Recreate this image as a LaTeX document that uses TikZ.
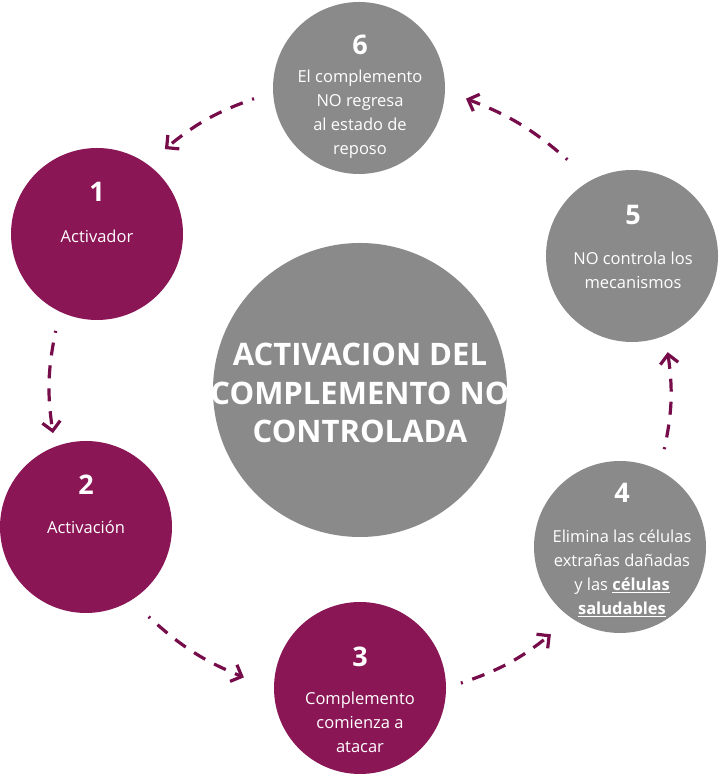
\documentclass[tikz,border=0pt]{standalone}
\usepackage{fontspec}
\setmainfont{Open Sans}
\usetikzlibrary{arrows.meta}
\definecolor{plum}{RGB}{139,22,86}
\definecolor{ash}{RGB}{138,138,138}
\definecolor{wine}{RGB}{118,12,74}
\newcommand\marcado[1]{\underline{\textbf{#1}}}

\begin{document}
\begin{tikzpicture}[x=1pt,y=1pt,
    bubble/.style={circle,minimum size=172pt,inner sep=0pt},
    num/.style={text=white,font=\fontsize{27}{27}\selectfont\bfseries},
    txt/.style={text=white,align=center,font=\fontsize{16.5}{24}\selectfont},
    title/.style={text=white,align=center,font=\fontsize{31}{38.5}\selectfont\bfseries},
    flow/.style={wine,line width=3.2pt,dash pattern=on 13pt off 10pt,dash phase=11pt,
      -{Straight Barb[length=9pt,width=18pt]}}]
        \useasboundingbox (0,0) rectangle (720,783);

        % Circles
        \node[bubble,fill=ash] (c6) at (359,695) {};
        \node[bubble,fill=plum] (c1) at (97,549) {};
        \node[bubble,fill=plum] (c2) at (86,256) {};
        \node[bubble,fill=plum] (c3) at (360,95) {};
        \node[bubble,fill=ash] (c4) at (620,236) {};
        \node[bubble,fill=ash] (c5) at (632,527) {};
        \node[circle,minimum size=294pt,inner sep=0pt,fill=ash] (mid) at (360,393) {};

        % Texts
        \node[title] (tmid) at (360,390) {ACTIVACION DEL\\COMPLEMENTO NO\\CONTROLADA};
        \node[num] (n6) at (360,738) {6};
        \node[txt] (t6) at (360,669) {El complemento\\NO regresa\\al estado de\\reposo};
        \node[num] (n1) at (97,591) {1};
        \node[txt] (t1) at (97,547) {Activador};
        \node[num] (n2) at (86,298) {2};
        \node[txt] (t2) at (86,256) {Activación};
        \node[num] (n3) at (360,126) {3};
        \node[txt] (t3) at (360,61) {Complemento\\comienza a\\atacar};
        \node[num] (n4) at (622,290) {4};
        \node[txt] (t4) at (622,210) {Elimina las células\\extrañas dañadas\\y las \marcado{células}\\\marcado{saludables}};
        \node[num] (n5) at (633,568) {5};
        \node[txt] (t5) at (633,513) {NO controla los\\mecanismos};

        % Coordinates (ring of radius 310 round the middle circle)
        \coordinate (A) at (254.0,684.3);
        \coordinate (B) at (164.9,633.9);
        \coordinate (C) at (55.7,452.2);
        \coordinate (D) at (53.0,349.9);
        \coordinate (E) at (148.6,166.3);
        \coordinate (F) at (243.9,105.6);
        \coordinate (G) at (460.9,99.9);
        \coordinate (H) at (550.9,148.7);
        \coordinate (I) at (664.3,333.8);
        \coordinate (J) at (667.7,430.8);
        \coordinate (K) at (567.4,623.4);
        \coordinate (L) at (466.0,684.3);

        % Arrows
        \draw[flow] (A) to[bend right=10] (B);
        \draw[flow] (C) to[bend right=10] (D);
        \draw[flow] (E) to[bend right=10] (F);
        \draw[flow] (G) to[bend right=10] (H);
        \draw[flow] (I) to[bend right=10] (J);
        \draw[flow] (K) to[bend right=10] (L);
        \end{tikzpicture}
\end{document}
